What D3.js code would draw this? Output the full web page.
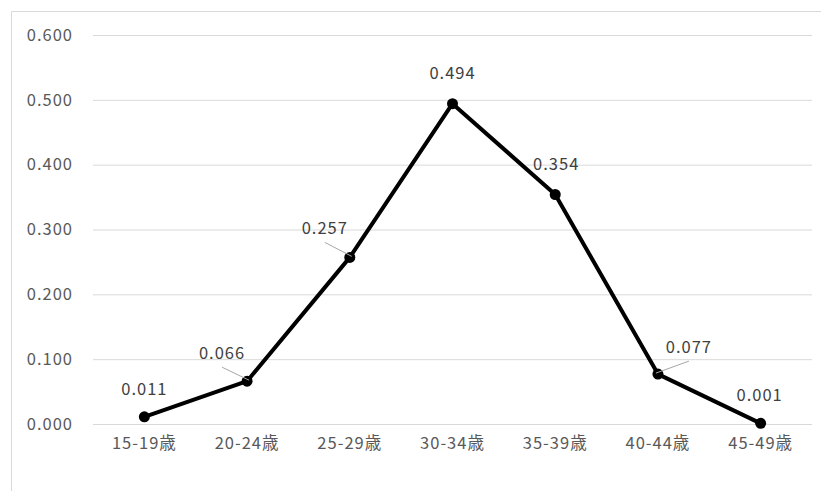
<!DOCTYPE html>
<html><head><meta charset="utf-8">
<script src="https://cdn.jsdelivr.net/npm/d3@7"></script>
<style>body{margin:0;background:#fff;} text{font-family:"Noto Sans CJK JP","Noto Sans",sans-serif;letter-spacing:1px;}</style>
</head><body>
<svg id="c" width="821" height="491"></svg>
<script>
const categories = ["15-19歳","20-24歳","25-29歳","30-34歳","35-39歳","40-44歳","45-49歳"];
const values = [0.011,0.066,0.257,0.494,0.354,0.077,0.001];
const yTicks = [0,0.1,0.2,0.3,0.4,0.5,0.6];
// label offsets (dx, dy) relative to point, and whether a leader line is drawn
const labelOffsets = [[0,-26],[-25,-27],[-25,-28],[0,-29],[1,-29],[31,-26],[-1,-27]];
const leaders = [false,true,true,false,false,true,false];

const svg = d3.select("#c");
const m = {l:93, r:812, t:35, b:424};
svg.append("path").attr("d","M11.5,491V11.5H821").attr("fill","none").attr("stroke","#d9d9d9").attr("stroke-width",1);

const x = d3.scaleBand().domain(categories).range([m.l,m.r]);
const y = d3.scaleLinear().domain([0,0.6]).range([m.b,m.t]);

const ya = svg.append("g").attr("transform",`translate(${m.l},0)`)
  .call(d3.axisLeft(y).tickValues(yTicks).tickFormat(d3.format(".3f")).tickSize(-(m.r-m.l)).tickPadding(20));
ya.select(".domain").remove();
ya.selectAll(".tick line").attr("stroke","#d9d9d9").attr("stroke-width",1);
ya.selectAll(".tick text").attr("fill","#595959").style("font-size","16.5px");

const xa = svg.append("g").attr("transform",`translate(0,${m.b})`)
  .call(d3.axisBottom(x).tickSize(0).tickPadding(13));
xa.select(".domain").remove();
xa.selectAll(".tick text").attr("fill","#595959").style("font-size","16.5px");

const cx = (d,i)=> x(categories[i]) + x.bandwidth()/2;
const line = d3.line().x((d,i)=>cx(d,i)).y(d=>y(d));
svg.append("path").datum(values).attr("d",line).attr("fill","none").attr("stroke","#000").attr("stroke-width",4).attr("stroke-linejoin","round");

svg.selectAll("circle.pt").data(values).join("circle").attr("class","pt")
  .attr("cx",cx).attr("cy",d=>y(d)).attr("r",5.5).attr("fill","#000");

values.forEach((v,i)=>{
  const px = cx(v,i), py = y(v);
  const [dx,dy] = labelOffsets[i];
  if(leaders[i]){
    const lx = px+dx, ly = py+dy+13;
    svg.append("line").attr("x1",lx).attr("y1",ly).attr("x2",px-2*Math.sign(dx)).attr("y2",py-1)
      .attr("stroke","#a6a6a6").attr("stroke-width",1);
  }
  svg.append("text").attr("x",px+dx).attr("y",py+dy).attr("text-anchor","middle").attr("dominant-baseline","middle")
    .attr("fill","#404040").style("font-size","16.5px").text(d3.format(".3f")(v));
});
</script>
</body></html>
